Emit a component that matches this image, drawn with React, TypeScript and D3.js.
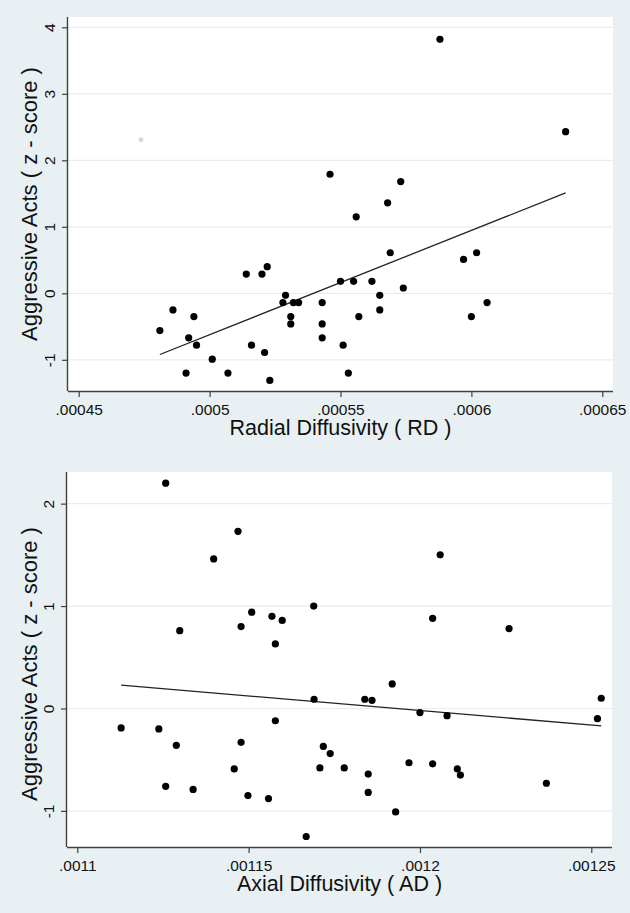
import { useEffect, useRef } from 'react';
import * as d3 from 'd3';

// Radial diffusivity panel (top)
const rdX = [
  0.000481, 0.000486, 0.000492, 0.000494, 0.000495, 0.000491, 0.000501, 0.000507,
  0.000514, 0.000516, 0.00052, 0.000522, 0.000521, 0.000523, 0.000528, 0.000529,
  0.000531, 0.000531, 0.000532, 0.000534, 0.000588, 0.000636, 0.000546, 0.000573,
  0.000568, 0.000556, 0.000569, 0.000597, 0.000602, 0.00055, 0.000555, 0.000562,
  0.000574, 0.000565, 0.000543, 0.000606, 0.000565, 0.000557, 0.0006, 0.000543,
  0.000543, 0.000551, 0.000553,
];
const rdY = [
  -0.56, -0.25, -0.67, -0.35, -0.78, -1.2, -0.99, -1.2,
  0.29, -0.78, 0.29, 0.4, -0.89, -1.31, -0.14, -0.03,
  -0.35, -0.46, -0.14, -0.14, 3.82, 2.43, 1.79, 1.68,
  1.36, 1.15, 0.61, 0.51, 0.61, 0.18, 0.18, 0.18,
  0.08, -0.03, -0.14, -0.14, -0.25, -0.35, -0.35, -0.46,
  -0.67, -0.78, -1.2,
];
const rdFitX = [0.000481, 0.000636];
const rdFitY = [-0.92, 1.51];
const rdGhost = [[0.0004738, 2.31]];
const rdXTicks = [0.00045, 0.0005, 0.00055, 0.0006, 0.00065];
const rdXLabels = ['.00045', '.0005', '.00055', '.0006', '.00065'];
const rdYTicks = [-1, 0, 1, 2, 3, 4];

// Axial diffusivity panel (bottom)
const adX = [
  0.0011258, 0.0011469, 0.0011398, 0.001169, 0.0011509, 0.0011568, 0.0011598, 0.0011478,
  0.0011299, 0.0011578, 0.0011691, 0.0011578, 0.0011128, 0.0011238, 0.0011289, 0.0011478,
  0.0011458, 0.0011258, 0.0011338, 0.0011498, 0.0011558, 0.0011668, 0.0012059, 0.0012037,
  0.001226, 0.0011919, 0.0011839, 0.001186, 0.0012529, 0.0012, 0.0012079, 0.0012518,
  0.0011718, 0.0011738, 0.0011708, 0.0011779, 0.0011968, 0.0012037, 0.0011849, 0.0012109,
  0.0012118, 0.0012369, 0.0011849, 0.0011929,
];
const adY = [
  2.2, 1.73, 1.46, 1.0, 0.94, 0.9, 0.86, 0.8,
  0.76, 0.63, 0.09, -0.12, -0.19, -0.2, -0.36, -0.33,
  -0.59, -0.76, -0.79, -0.85, -0.88, -1.25, 1.5, 0.88,
  0.78, 0.24, 0.09, 0.08, 0.1, -0.04, -0.07, -0.1,
  -0.37, -0.44, -0.58, -0.58, -0.53, -0.54, -0.64, -0.59,
  -0.65, -0.73, -0.82, -1.01,
];
const adFitX = [0.0011128, 0.0012529];
const adFitY = [0.228, -0.17];
const adXTicks = [0.0011, 0.00115, 0.0012, 0.00125];
const adXLabels = ['.0011', '.00115', '.0012', '.00125'];
const adYTicks = [-1, 0, 1, 2];

const FONT = '"Liberation Sans", Arial, sans-serif';

export default function App() {
  const svgRef = useRef<SVGSVGElement>(null);

  useEffect(() => {
    if (!svgRef.current) return;
    const svg = d3.select(svgRef.current);
    svg.selectAll('*').remove();

    const width = 630;
    const height = 913;

    svg.attr('width', width).attr('height', height);

    svg.append('rect')
      .attr('width', width)
      .attr('height', height)
      .attr('fill', '#e8f0f3');

    function drawPanel(opts: {
      left: number; right: number; top: number; bottom: number;
      xDomain: [number, number]; yDomain: [number, number];
      xs: number[]; ys: number[]; fitX: number[]; fitY: number[];
      xTicks: number[]; xLabels: string[]; yTicks: number[];
      xTitle: string; yTitleCenter: number; ghost?: number[][];
    }) {
      const xScale = d3.scaleLinear().domain(opts.xDomain).range([opts.left, opts.right]);
      const yScale = d3.scaleLinear().domain(opts.yDomain).range([opts.bottom, opts.top]);
      const g = svg.append('g');

      // plot region
      g.append('rect')
        .attr('x', opts.left)
        .attr('y', opts.top)
        .attr('width', opts.right - opts.left)
        .attr('height', opts.bottom - opts.top)
        .attr('fill', '#ffffff');

      // grid lines
      g.selectAll('.grid')
        .data(opts.yTicks)
        .enter()
        .append('line')
        .attr('x1', opts.left)
        .attr('x2', opts.right)
        .attr('y1', d => yScale(d))
        .attr('y2', d => yScale(d))
        .attr('stroke', '#e6eef1')
        .attr('stroke-width', 1.2);

      // faint artefact dot
      (opts.ghost || []).forEach(p => {
        g.append('circle')
          .attr('cx', xScale(p[0]))
          .attr('cy', yScale(p[1]))
          .attr('r', 2.5)
          .attr('fill', '#d8d8d8');
      });

      // fit line
      const line = d3.line<number>()
        .x((_, i) => xScale(opts.fitX[i]))
        .y(d => yScale(d));
      g.append('path')
        .datum(opts.fitY)
        .attr('d', line)
        .attr('fill', 'none')
        .attr('stroke', '#222')
        .attr('stroke-width', 1.3);

      // points
      g.selectAll('.dot')
        .data(opts.xs)
        .enter()
        .append('circle')
        .attr('cx', d => xScale(d))
        .attr('cy', (_, i) => yScale(opts.ys[i]))
        .attr('r', 3.6)
        .attr('fill', '#000');

      // axes
      const xAxis = g.append('g')
        .attr('transform', `translate(0,${opts.bottom})`)
        .call(d3.axisBottom(xScale)
          .tickValues(opts.xTicks)
          .tickSize(6)
          .tickPadding(7)
          .tickFormat((_, i) => opts.xLabels[i]));
      xAxis.select('.domain')
        .attr('d', `M${opts.left},0.5H${opts.right}`)
        .attr('stroke', '#404040')
        .attr('stroke-width', 1.4);
      xAxis.selectAll('.tick line').attr('stroke', '#404040').attr('stroke-width', 1.2);
      xAxis.selectAll('.tick text')
        .attr('fill', '#111')
        .style('font-family', FONT)
        .style('font-size', '15.5px');

      const yAxis = g.append('g')
        .attr('transform', `translate(${opts.left},0)`)
        .call(d3.axisLeft(yScale)
          .tickValues(opts.yTicks)
          .tickSize(6)
          .tickFormat(d => `${d}`));
      yAxis.select('.domain')
        .attr('d', `M-0.5,${opts.top}V${opts.bottom}`)
        .attr('stroke', '#404040')
        .attr('stroke-width', 1.4);
      yAxis.selectAll('.tick line').attr('stroke', '#404040').attr('stroke-width', 1.2);
      yAxis.selectAll('.tick text')
        .attr('x', null)
        .attr('dy', null)
        .attr('transform', 'translate(-13,0) rotate(-90)')
        .attr('text-anchor', 'middle')
        .attr('fill', '#111')
        .style('font-family', FONT)
        .style('font-size', '15.5px');

      // titles
      g.append('text')
        .attr('x', (opts.left + opts.right) / 2)
        .attr('y', opts.bottom + 44)
        .attr('text-anchor', 'middle')
        .attr('fill', '#111')
        .style('font-family', FONT)
        .style('font-size', '21.5px')
        .text(opts.xTitle);

      g.append('text')
        .attr('transform', `translate(37,${opts.yTitleCenter}) rotate(-90)`)
        .attr('text-anchor', 'middle')
        .attr('fill', '#111')
        .style('font-family', FONT)
        .style('font-size', '22px')
        .text('Aggressive Acts ( z - score )');
    }

    drawPanel({
      left: 68, right: 613, top: 17, bottom: 391,
      xDomain: [0.0004459, 0.0006541], yDomain: [-1.469, 4.155],
      xs: rdX, ys: rdY, fitX: rdFitX, fitY: rdFitY,
      xTicks: rdXTicks, xLabels: rdXLabels, yTicks: rdYTicks,
      xTitle: 'Radial Diffusivity ( RD )', yTitleCenter: 204, ghost: rdGhost,
    });

    drawPanel({
      left: 67, right: 612, top: 472, bottom: 847,
      xDomain: [0.001097, 0.00125604], yDomain: [-1.3525, 2.309],
      xs: adX, ys: adY, fitX: adFitX, fitY: adFitY,
      xTicks: adXTicks, xLabels: adXLabels, yTicks: adYTicks,
      xTitle: 'Axial Diffusivity ( AD )', yTitleCenter: 664,
    });
  }, []);

  return (
    <div style={{ position: 'absolute', left: 0, top: 0 }}>
      <svg ref={svgRef} style={{ display: 'block' }} />
    </div>
  );
}
